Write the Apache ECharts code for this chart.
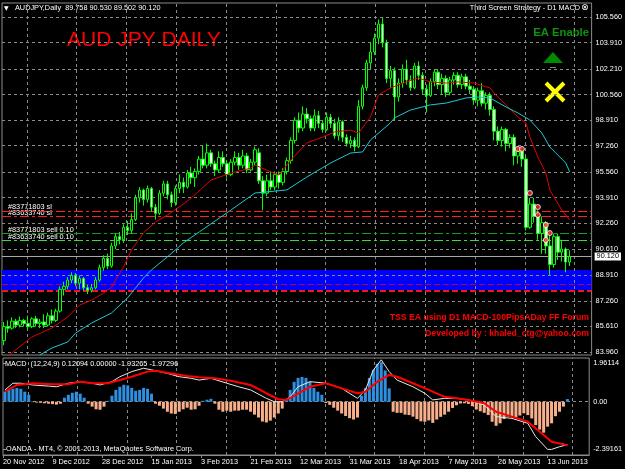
<!DOCTYPE html>
<html><head><meta charset="utf-8">
<script src="https://cdn.jsdelivr.net/npm/echarts@6/dist/echarts.min.js"></script>
<style>html,body{margin:0;padding:0;background:#000;}#c{width:625px;height:469px;}</style>
</head><body><div id="c"></div>
<script>
// ---------- data ----------
const tickLabels = ['20 Nov 2012','9 Dec 2012','28 Dec 2012','15 Jan 2013','3 Feb 2013','21 Feb 2013','12 Mar 2013','31 Mar 2013','18 Apr 2013','7 May 2013','26 May 2013','13 Jun 2013'];
const priceLevels = [105.56,103.91,102.21,100.56,98.91,97.26,95.56,93.91,92.26,90.61,88.91,87.26,85.61,83.96];
const macdLevels = [1.96114, 0, -2.39161];
// [open, close, low, high]
const candles = [
[84.70,85.60,84.40,85.90],[85.60,85.50,85.20,86.00],[85.50,85.95,85.40,86.20],[85.95,85.70,85.50,86.10],
[85.70,86.00,85.55,86.25],[86.00,85.80,85.60,86.10],[85.80,85.60,85.40,86.30],[85.60,86.10,85.50,86.20],
[86.10,85.80,85.60,86.30],[85.80,85.90,85.50,86.10],[85.90,85.70,85.50,86.40],[85.70,86.30,85.60,86.50],
[86.30,86.00,85.80,86.70],[86.00,86.60,85.90,86.75],[86.60,88.00,86.50,88.20],[88.00,88.20,87.60,88.50],
[88.20,88.60,88.00,88.80],[88.60,88.90,88.40,89.10],[88.90,88.40,88.20,89.05],[88.40,88.70,88.00,88.90],
[88.70,88.10,87.90,88.80],[88.10,87.95,87.70,88.30],[87.95,88.10,87.80,88.35],[88.10,88.60,88.00,88.80],
[88.60,89.40,88.50,89.60],[89.40,90.00,89.20,90.20],[90.00,89.50,89.30,90.30],[89.50,90.80,89.40,91.00],
[90.80,91.40,90.60,91.60],[91.40,91.20,90.90,91.70],[91.20,92.00,91.00,92.20],[92.00,91.80,91.50,92.40],
[91.80,92.50,91.60,92.90],[92.50,93.90,92.40,94.10],[93.90,94.40,93.60,94.60],[94.40,93.80,93.40,94.50],
[93.80,94.50,93.60,94.70],[94.50,93.30,93.00,94.60],[93.30,92.90,92.50,93.50],[92.90,94.20,92.80,94.40],
[94.20,94.80,94.00,95.00],[94.80,94.10,93.80,95.00],[94.10,93.60,93.30,94.30],[93.60,94.50,93.40,94.70],
[94.50,94.90,94.20,95.40],[94.90,94.60,94.20,95.20],[94.60,95.50,94.50,95.70],[95.50,95.20,94.80,95.90],
[95.20,95.60,94.60,95.80],[95.60,96.40,95.40,96.60],[96.40,96.00,95.80,97.30],[96.00,96.80,95.80,97.40],
[96.80,96.10,95.90,97.00],[96.10,95.70,95.30,96.30],[95.70,96.50,95.50,96.90],[96.50,96.10,95.90,96.90],
[96.10,95.40,95.20,96.30],[95.40,96.20,95.30,96.40],[96.20,96.50,96.00,96.90],[96.50,96.00,95.70,96.80],
[96.00,96.60,95.80,97.00],[96.60,95.70,95.50,96.80],[95.70,96.20,95.60,96.40],[96.20,97.00,96.00,97.20],
[96.80,95.00,94.80,97.10],[95.00,94.20,93.10,95.30],[94.20,95.00,94.00,95.40],[95.00,94.60,94.40,95.60],
[94.60,95.40,94.40,95.60],[95.40,94.90,94.50,95.60],[94.90,95.60,94.70,95.80],[95.60,96.30,95.40,96.50],
[96.30,97.60,96.10,97.80],[97.60,98.90,97.40,99.10],[98.90,98.40,98.10,99.40],[98.40,99.30,98.20,99.80],
[99.30,99.00,98.70,99.70],[99.00,98.40,98.20,99.20],[98.40,99.20,98.20,99.60],[99.20,98.70,98.40,99.50],
[98.70,98.30,98.10,98.90],[98.30,99.10,98.20,99.40],[99.10,98.70,98.40,99.30],[98.70,97.90,97.70,99.00],
[97.90,98.80,97.60,99.10],[98.80,97.80,97.50,98.90],[97.80,97.40,97.20,98.00],[97.40,97.60,97.10,97.90],
[97.60,97.20,96.90,97.80],[97.20,99.80,97.10,100.20],[99.80,101.00,99.60,101.20],[101.00,102.60,100.80,102.80],
[102.60,103.30,102.20,103.90],[103.30,104.20,103.10,104.50],[104.20,105.10,103.80,105.40],[105.10,103.90,103.60,105.50],
[103.90,101.60,101.30,104.10],[101.60,102.10,101.00,102.40],[102.10,100.40,98.90,102.30],[100.40,101.30,100.10,101.60],
[101.30,102.20,101.00,102.50],[102.20,101.50,101.20,102.80],[101.50,101.00,100.80,101.80],[101.00,102.40,100.90,102.60],
[102.40,101.80,101.50,102.70],[101.80,100.90,100.60,102.00],[100.90,100.50,99.40,101.20],[100.50,101.40,100.40,101.60],
[101.40,102.00,101.10,102.20],[102.00,101.20,100.90,102.20],[101.20,101.60,100.60,101.90],[101.60,100.70,100.40,101.80],
[100.70,101.50,100.50,101.70],[101.50,101.80,101.20,102.00],[101.80,101.20,101.00,102.00],[101.20,101.70,100.90,101.90],
[101.70,101.10,100.90,101.90],[101.10,100.90,100.60,101.50],[100.90,100.20,99.90,101.10],[100.20,100.80,99.80,101.00],
[100.80,100.00,99.80,101.30],[100.00,100.50,99.60,100.70],[100.50,99.60,99.20,100.70],[99.60,98.20,97.60,99.80],
[98.20,97.60,97.30,98.50],[97.60,98.30,97.20,98.50],[98.30,97.40,96.90,98.40],[97.40,97.80,97.10,98.00],
[97.80,96.60,96.00,98.00],[96.60,96.90,96.10,97.20],[96.90,96.40,95.90,97.20],[96.40,92.00,91.80,96.60],
[92.00,93.50,91.90,93.90],[93.50,92.70,92.30,93.90],[92.70,91.60,91.20,93.10],[91.60,92.30,90.30,92.70],
[92.30,90.80,90.30,92.40],[90.80,89.60,88.90,91.80],[89.60,91.40,89.40,91.60],[91.40,90.40,89.90,91.60],
[90.40,90.60,89.80,91.20],[90.60,89.76,89.10,90.70],[89.758,90.12,89.502,90.53]
];
// [bar index, value]
const redMa = [[1,83.70],[7,84.93],[12,85.51],[16,86.22],[19,86.99],[22,87.31],[25,87.76],[27,88.15],[28,88.60],[30,89.44],[32,90.54],[35,91.63],[38,92.34],[41,92.79],[44,93.31],[47,93.89],[52,95.05],[57,95.50],[62,95.82],[63,96.02],[67,95.57],[69,95.37],[72,96.34],[76,97.44],[80,97.82],[83,98.15],[87,98.27],[89,98.08],[92,99.11],[94,100.53],[97,100.98],[101,101.37],[104,101.63],[107,101.37],[111,101.30],[114,101.37],[118,101.30],[122,100.98],[123,100.66],[126,99.89],[129,99.11],[131,98.73],[132,97.82],[134,96.53],[136,95.50],[137,94.41],[140,93.12],[142,92.47]];
const cyanMa = [[9,83.77],[12,84.22],[16,84.61],[18,85.19],[22,85.83],[27,86.48],[31,87.44],[35,88.73],[37,89.25],[41,90.09],[45,90.99],[49,91.70],[57,93.12],[63,94.21],[71,94.41],[76,95.24],[82,96.15],[87,96.79],[90,96.86],[92,97.63],[97,98.73],[98,99.05],[102,99.56],[107,99.89],[111,100.01],[116,100.34],[119,100.40],[122,100.34],[126,99.76],[129,99.37],[132,98.92],[135,98.08],[137,97.18],[141,96.15],[142,95.57]];
const macdHist = [
0.45,0.53,0.58,0.62,0.58,0.45,0.31,
-0.02,-0.04,-0.05,-0.07,-0.09,-0.11,-0.13,-0.09,
0.18,0.31,0.40,0.45,0.36,0.18,
-0.09,-0.22,-0.34,-0.36,-0.22,
0.04,0.27,0.53,0.67,0.76,0.73,0.62,0.49,0.53,0.62,0.58,0.36,
-0.09,-0.18,-0.31,-0.45,-0.53,-0.55,-0.45,-0.34,-0.27,-0.36,-0.34,-0.18,
0.04,0.09,0.13,
-0.09,-0.36,-0.45,-0.40,-0.45,-0.40,-0.40,-0.36,-0.36,-0.45,-0.58,-0.71,-0.89,-0.93,-0.85,-0.71,-0.53,-0.31,
0.10,0.53,0.89,1.07,1.11,1.07,0.89,0.62,0.45,0.31,
-0.06,-0.14,-0.27,-0.40,-0.53,-0.64,-0.74,-0.80,-0.71,
0.27,0.62,1.07,1.42,1.70,1.77,1.40,0.60,
-0.45,-0.50,-0.50,-0.58,-0.60,-0.67,-0.78,-0.88,-0.90,-0.84,-0.95,-0.80,-0.68,-0.58,-0.45,-0.28,-0.16,-0.08,-0.07,-0.10,
-0.20,-0.35,-0.43,-0.50,-0.60,-0.90,-1.08,-0.97,-0.78,-0.67,-0.70,-0.70,-0.62,-0.52,-0.60,-0.75,-1.05,-1.25,-1.39,-1.12,-0.97,-0.65,-0.45,-0.22,
0.12
];
const macdMain = [[0,0.53],[2,0.83],[4,0.83],[7,0.75],[11,0.70],[13,0.67],[16,0.83],[19,0.90],[22,0.83],[24,0.75],[27,0.90],[29,1.12],[32,1.35],[35,1.50],[37,1.43],[41,1.27],[44,1.12],[47,1.05],[49,0.97],[52,1.05],[56,0.83],[59,0.67],[62,0.53],[66,0.15],[68,0.0],[70,0.0],[72,0.22],[74,0.67],[77,0.90],[81,0.83],[85,0.60],[89,0.15],[91,0.53],[93,1.42],[95,1.88],[97,1.35],[99,0.97],[103,0.67],[106,0.38],[108,0.08],[111,0.15],[114,0.15],[117,0.08],[121,-0.15],[124,-0.67],[128,-0.75],[132,-0.97],[134,-1.57],[137,-2.14],[138,-2.14],[140,-2.02],[142,-1.93]];
const macdSignal = [[0,0.45],[3,0.75],[7,0.83],[12,0.78],[16,0.78],[19,0.90],[22,0.83],[26,0.83],[29,0.97],[32,1.12],[36,1.35],[38,1.39],[42,1.27],[46,1.15],[49,1.10],[53,1.05],[57,0.94],[62,0.75],[66,0.38],[69,0.11],[71,0.08],[73,0.26],[77,0.67],[81,0.83],[85,0.60],[89,0.38],[91,0.45],[94,0.90],[97,1.20],[99,1.12],[103,0.83],[107,0.53],[111,0.22],[114,0.15],[117,0.08],[121,-0.07],[124,-0.45],[128,-0.67],[132,-0.90],[136,-1.49],[138,-1.80],[141,-1.91],[142,-1.97]];
const slLevels = [93.01, 92.69];
const sellLevels = [91.61, 91.18];
const tpLevels = [88.32, 87.91];
const tpZone = [89.25, 87.96];
const lastPrice = 90.12;
const tradeMarks = [[129,97.05],[130,97.05],[132,94.21],[134,93.31],[134,92.79],[136,92.15],[137,91.63],[136,91.18]];
const orderLabels = ['#83771803 sl','#83633740 sl','#83771803 sell 0.10','#83633740 sell 0.10','#83771803 tp','#83633740 tp'];

// ---------- chart ----------
const NB = 148;
const cats = Array.from({length: NB}, (_, i) => String(i));
const FF = 'Liberation Sans, Arial, sans-serif';
const vGrid = tickLabels.map((_, k) => 6.25 + 12.5 * k);
const at = pts => pts.map(p => [p[0] + 0.5, p[1]]);
const dashGrey = {color: '#8a8a8a', type: [3, 3], width: 1};

const chart = echarts.init(document.getElementById('c'), null, {renderer: 'canvas'});
chart.setOption({
  backgroundColor: '#000',
  animation: false,
  grid: [
    {left: 2, top: 3, width: 592, height: 352, show: true, borderColor: '#8c8c8c', borderWidth: 1, backgroundColor: 'transparent'},
    {left: 2, top: 358, width: 592, height: 97, show: true, borderColor: '#8c8c8c', borderWidth: 1, backgroundColor: 'transparent'}
  ],
  xAxis: [
    {gridIndex: 0, type: 'category', data: cats, show: false, boundaryGap: true},
    {gridIndex: 0, type: 'value', min: 0, max: NB, show: false},
    {gridIndex: 1, type: 'category', data: cats, show: false, boundaryGap: true},
    {gridIndex: 1, type: 'value', min: 0, max: NB, interval: 12.5, position: 'bottom',
      axisLine: {show: true, lineStyle: {color: '#8c8c8c'}},
      axisTick: {show: true, length: 3, lineStyle: {color: '#8c8c8c'}},
      splitLine: {show: false},
      axisLabel: {color: '#fff', fontSize: 7.3, fontFamily: FF, align: 'left', margin: 3, showMaxLabel: false,
        formatter: v => tickLabels[Math.round(v / 12.5)] || ''}}
  ],
  yAxis: [
    {gridIndex: 0, type: 'value', position: 'right', min: 83.77, max: 106.46,
      axisLine: {show: false}, splitLine: {show: false},
      axisTick: {show: true, customValues: priceLevels, length: 3, lineStyle: {color: '#a0a0a0'}},
      axisLabel: {customValues: priceLevels, formatter: v => v.toFixed(3), color: '#fff', fontSize: 7.3, fontFamily: FF, margin: 4}},
    {gridIndex: 1, type: 'value', position: 'right', min: macdLevels[2], max: macdLevels[0],
      axisLine: {show: false}, splitLine: {show: false},
      axisTick: {show: true, customValues: [1.74, 0, -2.14], length: 3, lineStyle: {color: '#a0a0a0'}},
      axisLabel: {customValues: [1.74, 0, -2.14], color: '#fff', fontSize: 7.3, fontFamily: FF, margin: 4,
        formatter: v => v > 1 ? macdLevels[0].toFixed(5) : (v < -1 ? macdLevels[2].toFixed(5) : '0.00')}}
  ],
  series: [
    {type: 'line', xAxisIndex: 1, yAxisIndex: 0, data: [], silent: true,
      markArea: {silent: true, z: 1, itemStyle: {color: '#0000ff'}, data: [[{yAxis: tpZone[0]}, {yAxis: tpZone[1]}]]}},
    {type: 'line', xAxisIndex: 1, yAxisIndex: 0, data: [], silent: true,
      markLine: {silent: true, z: 2, symbol: ['none', 'none'], label: {show: false}, lineStyle: dashGrey,
        data: priceLevels.map(v => ({yAxis: v})).concat(vGrid.map(v => ({xAxis: v})))}},
    {type: 'line', xAxisIndex: 1, yAxisIndex: 0, data: [], silent: true,
      markLine: {silent: true, z: 3, symbol: ['none', 'none'], label: {show: false},
        data: [
          {yAxis: slLevels[0], lineStyle: {color: '#ff2020', type: [9, 3, 3, 3], width: 1}},
          {yAxis: slLevels[1], lineStyle: {color: '#ff2020', type: [9, 3, 3, 3], width: 1}},
          {yAxis: sellLevels[0], lineStyle: {color: '#14a014', type: [9, 3, 3, 3], width: 1}},
          {yAxis: sellLevels[1], lineStyle: {color: '#32e032', type: [9, 3, 3, 3], width: 1}},
          {yAxis: tpLevels[0], lineStyle: {color: '#c00040', type: [6, 3], width: 1}},
          {yAxis: tpLevels[1], lineStyle: {color: '#ff1010', type: [6, 3], width: 2}},
          {yAxis: lastPrice, lineStyle: {color: '#a8a8a8', type: 'solid', width: 1},
            label: {show: true, position: 'end', formatter: lastPrice.toFixed(3), color: '#000', backgroundColor: '#fff',
              fontSize: 7.3, fontFamily: FF, padding: [1, 2, 0, 2], distance: 3}}
        ]}},
    {type: 'candlestick', xAxisIndex: 0, yAxisIndex: 0, z: 10, barWidth: 3, data: candles,
      itemStyle: {color: '#000', color0: '#f4fff4', borderColor: '#00ff00', borderColor0: '#00ff00', borderWidth: 1}},
    {type: 'line', xAxisIndex: 1, yAxisIndex: 0, z: 11, data: at(redMa), symbol: 'none', lineStyle: {color: '#e00000', width: 1}},
    {type: 'line', xAxisIndex: 1, yAxisIndex: 0, z: 11, data: at(cyanMa), symbol: 'none', lineStyle: {color: '#1ec8d2', width: 1}},
    {type: 'scatter', xAxisIndex: 0, yAxisIndex: 0, z: 12, data: tradeMarks, symbol: 'circle', symbolSize: 5,
      itemStyle: {color: '#ff2020', borderColor: '#ffffff', borderWidth: 1}},
    // MACD panel
    {type: 'line', xAxisIndex: 3, yAxisIndex: 1, data: [], silent: true,
      markLine: {silent: true, z: 2, symbol: ['none', 'none'], label: {show: false}, lineStyle: dashGrey,
        data: [{yAxis: 0}].concat(vGrid.map(v => ({xAxis: v})))}},
    {type: 'bar', xAxisIndex: 2, yAxisIndex: 1, z: 3, barWidth: 3,
      data: macdHist.map(v => ({value: v, itemStyle: {color: v >= 0 ? '#2f8fe0' : '#f8b08c'}}))},
    {type: 'line', xAxisIndex: 3, yAxisIndex: 1, z: 4, data: at(macdMain), symbol: 'none', lineStyle: {color: '#e8e8e8', width: 1}},
    {type: 'line', xAxisIndex: 3, yAxisIndex: 1, z: 5, data: at(macdSignal), symbol: 'none', lineStyle: {color: '#ff0000', width: 2}}
  ],
  graphic: [
    {type: 'text', x: 4, y: 8, style: {text: '▼', fill: '#fff', font: '6px DejaVu Sans', verticalAlign: 'middle'}},
    {type: 'text', x: 15, y: 8, style: {text: 'AUDJPY,Daily  89.758 90.530 89.502 90.120', fill: '#fff', font: '7.3px ' + FF, verticalAlign: 'middle'}},
    {type: 'text', x: 67, y: 40, style: {text: 'AUD JPY DAILY', fill: '#ff0000', font: '21px ' + FF, verticalAlign: 'middle'}},
    {type: 'text', x: 580, y: 8, style: {text: 'Third Screen Strategy - D1 MACD', fill: '#fff', font: '7.3px ' + FF, align: 'right', verticalAlign: 'middle'}},
    {type: 'text', x: 581, y: 8, style: {text: '⊗', fill: '#fff', font: '9px DejaVu Sans', align: 'left', verticalAlign: 'middle'}},
    {type: 'text', x: 589, y: 33, style: {text: 'EA Enable', fill: '#0f930f', font: 'bold 11.3px ' + FF, align: 'right', verticalAlign: 'middle'}},
    {type: 'polygon', shape: {points: [[543, 63], [563, 63], [553, 52]]}, style: {fill: '#008a00'}},
    {type: 'rect', shape: {x: 550, y: 67, width: 6, height: 1}, style: {fill: '#6f8f6f'}},
    {type: 'line', shape: {x1: 546, y1: 83, x2: 564, y2: 101}, style: {stroke: '#ffff00', lineWidth: 4}},
    {type: 'line', shape: {x1: 564, y1: 83, x2: 546, y2: 101}, style: {stroke: '#ffff00', lineWidth: 4}},
    {type: 'text', x: 589, y: 318, style: {text: 'TSS EA using D1 MACD-100PipsADay FF Forum', fill: '#ff0000', font: 'bold 8.7px ' + FF, align: 'right', verticalAlign: 'middle'}},
    {type: 'text', x: 589, y: 334, style: {text: 'Developed by : khaled_ctg@yahoo.com', fill: '#ff0000', font: 'bold 8.7px ' + FF, align: 'right', verticalAlign: 'middle'}},
    {type: 'text', x: 5, y: 364, style: {text: 'MACD  (12,24,9) 0.12094 0.00000 -1.93265 -1.97296', fill: '#fff', font: '7.3px ' + FF, verticalAlign: 'middle'}},
    {type: 'text', x: 6, y: 449, style: {text: 'OANDA - MT4, © 2001-2013, MetaQuotes Software Corp.', fill: '#fff', font: '7.3px ' + FF, verticalAlign: 'middle'}},
    {type: 'text', x: 8, y: 207, style: {text: orderLabels[0], fill: '#fff', font: '7.3px ' + FF, verticalAlign: 'middle'}},
    {type: 'text', x: 8, y: 213, style: {text: orderLabels[1], fill: '#fff', font: '7.3px ' + FF, verticalAlign: 'middle'}},
    {type: 'text', x: 8, y: 230, style: {text: orderLabels[2], fill: '#fff', font: '7.3px ' + FF, verticalAlign: 'middle'}},
    {type: 'text', x: 8, y: 237, style: {text: orderLabels[3], fill: '#fff', font: '7.3px ' + FF, verticalAlign: 'middle'}},
    {type: 'text', x: 8, y: 279, style: {text: orderLabels[4], fill: '#fff', font: '7.3px ' + FF, verticalAlign: 'middle'}},
    {type: 'text', x: 8, y: 287, style: {text: orderLabels[5], fill: '#fff', font: '7.3px ' + FF, verticalAlign: 'middle'}}
  ]
});
</script>
</body></html>
